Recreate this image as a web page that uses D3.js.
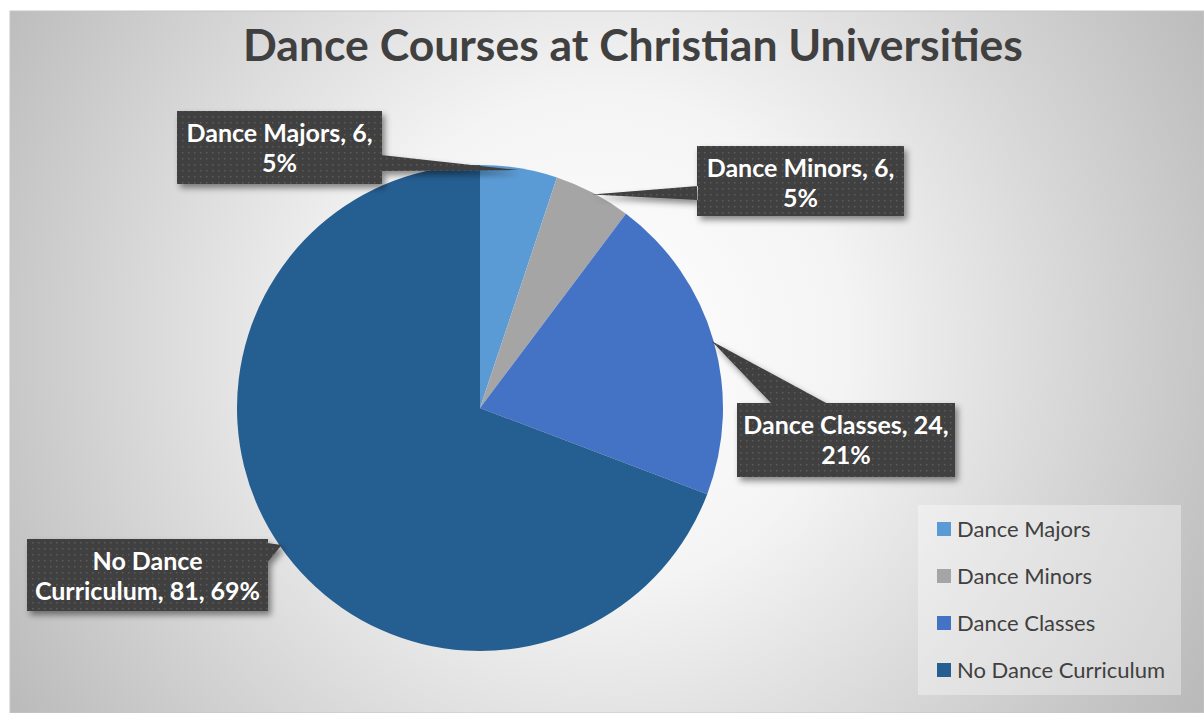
<!DOCTYPE html>
<html>
<head>
<meta charset="utf-8">
<script src="https://cdnjs.cloudflare.com/ajax/libs/d3/7.8.5/d3.min.js"></script>
<style>
body{margin:0;background:#fff;overflow:hidden;}
</style>
</head>
<body>
<svg class="chart"></svg>
<script>
const title = "Dance Courses at Christian Universities"
const categories = ["Dance Majors", "Dance Minors", "Dance Classes", "No Dance Curriculum"]
const counts = [6, 6, 24, 81]
const percents = ["5%", "5%", "21%", "69%"]
const colors = ["#5b9bd5", "#a5a5a5", "#4472c4", "#255e91"]
const firstLineWords = [3, 3, 3, 2] // where excel wrapped each data label

const width = 1204, height = 713
const cx = 480, cy = 408, radius = 243

// label box placement (x,y,w,h) and the edge the pointer leaves from
const boxes = [
  {x: 177, y: 111, w: 205, h: 73, side: "right", a: 44, b: 60},
  {x: 697, y: 146, w: 207, h: 70, side: "left", a: 40, b: 54},
  {x: 737, y: 403, w: 218, h: 74, side: "top", a: 35, b: 91},
  {x: 27, y: 539, w: 241, h: 72, side: "right", a: 4, b: 24}
]

let svg = d3.select(".chart")
    .attr("width", width)
    .attr("height", height)

let defs = svg.append("defs")

let grad = defs.append("radialGradient")
    .attr("id", "bg")
    .attr("gradientUnits", "userSpaceOnUse")
    .attr("cx", 600).attr("cy", 340).attr("r", 700)
grad.append("stop").attr("offset", "0%").attr("stop-color", "#ffffff")
grad.append("stop").attr("offset", "35%").attr("stop-color", "#f4f4f4")
grad.append("stop").attr("offset", "100%").attr("stop-color", "#bababa")

let pat = defs.append("pattern")
    .attr("id", "dots")
    .attr("width", 6).attr("height", 6)
    .attr("patternUnits", "userSpaceOnUse")
pat.append("rect").attr("width", 6).attr("height", 6).attr("fill", "#3f3f3f")
pat.append("rect").attr("x", 2).attr("y", 2).attr("width", 1.5).attr("height", 1.5).attr("fill", "#5c5c5c")

let shadow = defs.append("filter")
    .attr("id", "shadow")
    .attr("x", "-20%").attr("y", "-20%").attr("width", "140%").attr("height", "160%")
shadow.append("feDropShadow")
    .attr("dx", 3).attr("dy", 4).attr("stdDeviation", 3)
    .attr("flood-color", "#000").attr("flood-opacity", 0.45)

// chart area background
svg.append("rect")
    .attr("x", 10).attr("y", 11)
    .attr("width", width - 10).attr("height", height - 11)
    .attr("fill", "url(#bg)")
    .attr("stroke", "#c6c6c6")

svg.append("text")
    .attr("x", 633).attr("y", 61)
    .attr("text-anchor", "middle")
    .style("font-family", "Lato, 'Open Sans', sans-serif")
    .style("font-weight", "bold")
    .style("font-size", "44.5px")
    .attr("fill", "#404040")
    .text(title)

let pie = d3.pie().sort(null).value(d => d)
let arcs = pie(counts)
let arc = d3.arc().innerRadius(0).outerRadius(radius)
let edgeArc = d3.arc().innerRadius(radius - 2).outerRadius(radius - 2) // tip of the pointers

let pieG = svg.append("g")
    .attr("transform", "translate(" + cx + "," + cy + ")")

pieG.selectAll("path")
    .data(arcs)
  .enter().append("path")
    .attr("d", arc)
    .attr("fill", (d, i) => colors[i])

// data labels with callout pointers
let labels = svg.append("g")

arcs.forEach(function(d, i){
  let b = boxes[i]
  let c = edgeArc.centroid(d)
  let tip = [cx + c[0], cy + c[1]]
  let p1, p2
  if(b.side === "right"){ p1 = [b.x + b.w - 1, b.y + b.a]; p2 = [b.x + b.w - 1, b.y + b.b] }
  else if(b.side === "left"){ p1 = [b.x + 1, b.y + b.a]; p2 = [b.x + 1, b.y + b.b] }
  else { p1 = [b.x + b.a, b.y + 1]; p2 = [b.x + b.b, b.y + 1] }

  let g = labels.append("g").attr("filter", "url(#shadow)")
  g.append("path")
    .attr("d", "M" + b.x + "," + b.y + "h" + b.w + "v" + b.h + "h" + (-b.w) + "Z" +
      "M" + p1 + "L" + tip + "L" + p2 + "Z")
    .attr("fill", "url(#dots)")

  let words = (categories[i] + ", " + counts[i] + ", " + percents[i]).split(" ")
  let lines = [words.slice(0, firstLineWords[i]).join(" "), words.slice(firstLineWords[i]).join(" ")]
  let t = labels.append("text")
    .attr("text-anchor", "middle")
    .style("font-family", "Lato, 'Open Sans', sans-serif")
    .style("font-weight", "bold")
    .style("font-size", "25px")
    .attr("fill", "#ffffff")
  lines.forEach(function(line, j){
    t.append("tspan")
      .attr("x", b.x + b.w / 2)
      .attr("y", b.y + 31 + j * 30)
      .text(line)
  })
})

// legend
let legend = svg.append("g")
legend.append("rect")
    .attr("x", 918).attr("y", 505)
    .attr("width", 263).attr("height", 190)
    .attr("fill", "#ffffff").attr("opacity", 0.35)

let item = legend.selectAll(".item")
    .data(categories)
  .enter().append("g")
    .attr("transform", (d, i) => "translate(937," + (522 + i * 47) + ")")
item.append("rect")
    .attr("width", 14).attr("height", 14)
    .attr("fill", (d, i) => colors[i])
item.append("text")
    .attr("x", 20).attr("y", 14.5)
    .style("font-family", "Lato, 'Open Sans', sans-serif")
    .style("font-size", "22px")
    .attr("fill", "#404040")
    .text(d => d)
</script>
</body>
</html>
